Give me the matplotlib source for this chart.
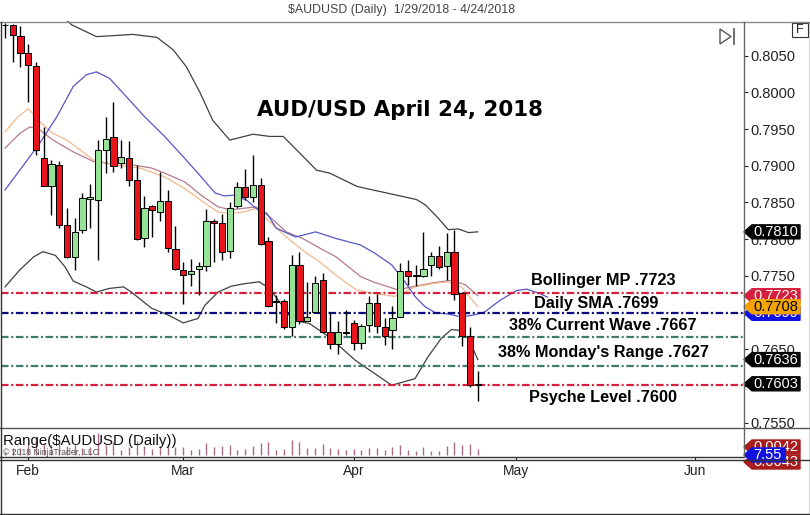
import matplotlib
matplotlib.use("Agg")
import matplotlib.pyplot as plt
import matplotlib.transforms as mtransforms
from matplotlib.lines import Line2D
from matplotlib.patches import Polygon, Rectangle
import numpy as np
import pandas as pd

plt.rcParams["font.family"] = ["Liberation Sans", "DejaVu Sans"]

W, H = 810, 515
START = "2018-01-29"

# daily bars (1/29/2018 .. 4/24/2018)
OPEN = [0.8092, 0.8092, 0.8077, 0.8053, 0.8036, 0.7910, 0.7873, 0.7901, 0.7819, 0.7776,
        0.7813, 0.7855, 0.7854, 0.7922, 0.7939, 0.7904, 0.7910, 0.7880, 0.7801, 0.7845,
        0.7837, 0.7852, 0.7786, 0.7758, 0.7752, 0.7759, 0.7764, 0.7825, 0.7822, 0.7784,
        0.7845, 0.7871, 0.7857, 0.7874, 0.7798, 0.7716, 0.7716, 0.7680, 0.7765, 0.7689,
        0.7701, 0.7744, 0.7673, 0.7657, 0.7673, 0.7686, 0.7658, 0.7683, 0.7713, 0.7681,
        0.7676, 0.7694, 0.7757, 0.7751, 0.7750, 0.7765, 0.7777, 0.7763, 0.7782, 0.7727,
        0.7668, 0.7601]
HIGH = [0.8094, 0.8093, 0.8090, 0.8066, 0.8042, 0.7953, 0.7908, 0.7906, 0.7843, 0.7829,
        0.7863, 0.7875, 0.7935, 0.7967, 0.7987, 0.7935, 0.7934, 0.7901, 0.7859, 0.7846,
        0.7892, 0.7867, 0.7818, 0.7769, 0.7773, 0.7769, 0.7841, 0.7828, 0.7835, 0.7851,
        0.7878, 0.7896, 0.7915, 0.7883, 0.7803, 0.7724, 0.7719, 0.7778, 0.7783, 0.7742,
        0.7750, 0.7754, 0.7701, 0.7688, 0.7703, 0.7690, 0.7685, 0.7722, 0.7725, 0.7692,
        0.7709, 0.7767, 0.7772, 0.7765, 0.7810, 0.7783, 0.7791, 0.7808, 0.7812, 0.7728,
        0.7681, 0.7621]
LOW = [0.8074, 0.8042, 0.8035, 0.7987, 0.7915, 0.7872, 0.7833, 0.7815, 0.7774, 0.7758,
       0.7808, 0.7815, 0.7772, 0.7890, 0.7892, 0.7897, 0.7872, 0.7799, 0.7790, 0.7803,
       0.7825, 0.7783, 0.7758, 0.7712, 0.7736, 0.7724, 0.7756, 0.7769, 0.7771, 0.7774,
       0.7843, 0.7853, 0.7851, 0.7792, 0.7708, 0.7686, 0.7677, 0.7668, 0.7685, 0.7688,
       0.7699, 0.7673, 0.7650, 0.7644, 0.7669, 0.7649, 0.7650, 0.7674, 0.7672, 0.7656,
       0.7650, 0.7694, 0.7738, 0.7736, 0.7749, 0.7750, 0.7759, 0.7744, 0.7717, 0.7654,
       0.7599, 0.7579]
CLOSE = [0.8092, 0.8078, 0.8053, 0.8037, 0.7921, 0.7873, 0.7902, 0.7819, 0.7776, 0.7810,
         0.7856, 0.7857, 0.7922, 0.7936, 0.7900, 0.7912, 0.7880, 0.7800, 0.7842, 0.7840,
         0.7852, 0.7788, 0.7759, 0.7751, 0.7757, 0.7764, 0.7825, 0.7822, 0.7783, 0.7843,
         0.7871, 0.7858, 0.7874, 0.7793, 0.7709, 0.7715, 0.7681, 0.7765, 0.7689, 0.7694,
         0.7740, 0.7674, 0.7657, 0.7673, 0.7672, 0.7659, 0.7682, 0.7713, 0.7682, 0.7668,
         0.7692, 0.7757, 0.7750, 0.7750, 0.7760, 0.7777, 0.7762, 0.7783, 0.7725, 0.7668,
         0.7601, 0.7603]

# indicator lines as (bar index, price)
BB_UPPER_X = [7.0, 8.6, 11.8, 13.5, 16.5, 19.6, 21.7, 23.4, 25.2, 26.8, 29.0, 32.0, 34.2, 35.9,
              37.6, 40.2, 41.9, 45.4, 47.5, 50.1, 53.1, 54.2, 55.7, 57.2, 58.5, 59.8, 61.0]
BB_UPPER = [0.8108, 0.8092, 0.8076, 0.8077, 0.8079, 0.8075, 0.8058, 0.8035, 0.7999, 0.7962,
            0.7935, 0.7943, 0.7940, 0.7940, 0.7922, 0.7894, 0.7890, 0.7872, 0.7867, 0.7861,
            0.7854, 0.7847, 0.7831, 0.7813, 0.7814, 0.7809, 0.7810]
BB_LOWER_X = [0.0, 1.9, 3.7, 4.9, 6.5, 7.7, 8.8, 10.5, 11.8, 13.5, 15.3, 16.3, 18.9, 21.0, 23.0,
              24.9, 25.8, 27.5, 29.2, 30.7, 32.8, 34.1, 35.4, 37.1, 39.3, 41.8, 45.2, 47.7,
              49.9, 52.9, 54.6, 56.3, 57.6, 58.5, 59.8, 61.0]
BB_LOWER = [0.7735, 0.7758, 0.7776, 0.7783, 0.7778, 0.7763, 0.7743, 0.7735, 0.7728, 0.7733,
            0.7735, 0.7728, 0.7706, 0.7697, 0.7686, 0.7692, 0.7710, 0.7728, 0.7736, 0.7739,
            0.7742, 0.7733, 0.7715, 0.7690, 0.7685, 0.7667, 0.7635, 0.7617, 0.7601, 0.7610,
            0.7640, 0.7665, 0.7677, 0.7676, 0.7665, 0.7636]
BB_MID_X = [0.0, 1.9, 3.2, 4.5, 6.2, 8.8, 11.4, 13.5, 15.5, 18.9, 20.6, 23.2, 25.3, 27.5, 29.2,
            30.7, 32.4, 34.1, 36.3, 38.4, 40.6, 42.7, 45.9, 47.7, 50.7, 52.9, 55.5, 57.6, 59.4, 61.0]
BB_MID = [0.7924, 0.7944, 0.7953, 0.7949, 0.7935, 0.7919, 0.7906, 0.7903, 0.7903, 0.7897,
          0.7890, 0.7878, 0.7860, 0.7844, 0.7840, 0.7842, 0.7844, 0.7831, 0.7810, 0.7801,
          0.7788, 0.7776, 0.7749, 0.7741, 0.7731, 0.7736, 0.7741, 0.7744, 0.7738, 0.7723]
MA_X = [0.0, 1.5, 3.0, 4.5, 6.2, 8.0, 11.4, 14.4, 17.4, 20.6, 23.2, 25.8, 27.5, 29.2, 30.7,
        32.4, 34.1, 36.3, 38.4, 40.6, 42.7, 45.3, 47.7, 50.3, 52.9, 55.5, 57.2, 58.9, 61.0]
MA = [0.7946, 0.7965, 0.7978, 0.7960, 0.7944, 0.7935, 0.7908, 0.7901, 0.7897, 0.7885, 0.7869,
      0.7849, 0.7837, 0.7835, 0.7837, 0.7842, 0.7824, 0.7803, 0.7785, 0.7769, 0.7751, 0.7731,
      0.7726, 0.7722, 0.7735, 0.7740, 0.7742, 0.7735, 0.7708]
SHIFTED_X = [0.0, 1.9, 4.5, 6.7, 8.8, 10.5, 11.8, 13.5, 15.5, 18.0, 20.6, 23.2, 25.3, 27.1,
             28.3, 29.6, 31.2, 32.4, 33.8, 35.0, 37.5, 40.1, 42.7, 45.9, 47.7, 49.9, 51.6,
             52.9, 54.2, 55.5, 57.2, 58.9, 60.6, 61.9, 63.9, 66.0, 67.3, 69.0, 70.0]
SHIFTED = [0.7867, 0.7894, 0.7931, 0.7967, 0.8008, 0.8024, 0.8028, 0.8019, 0.7996, 0.7967,
           0.7940, 0.7910, 0.7885, 0.7863, 0.7859, 0.7860, 0.7853, 0.7842, 0.7835, 0.7815,
           0.7803, 0.7810, 0.7801, 0.7792, 0.7781, 0.7765, 0.7742, 0.7722, 0.7708, 0.7700,
           0.7698, 0.7694, 0.7697, 0.7701, 0.7717, 0.7730, 0.7732, 0.7726, 0.7721]

# drawn horizontal levels and their notes
LEVELS = [0.7727, 0.7699, 0.7667, 0.7627, 0.7601]
LEVEL_COLORS = ["#d61f3c", "#0b0b80", "#3e7b6e", "#3e7b6e", "#d61f3c"]
NOTES = ["Bollinger MP .7723", "Daily SMA .7699", "38% Current Wave .7667",
         "38% Monday's Range .7627", "Psyche Level .7600"]
NOTE_X = [77.2, 76.3, 77.1, 77.2, 77.2]
NOTE_Y = [0.77376, 0.77059, 0.76763, 0.76391, 0.75778]

Y_TICKS = [0.7550, 0.7600, 0.7650, 0.7700, 0.7750, 0.7800, 0.7850, 0.7900, 0.7950, 0.8000, 0.8050]
# labels that sit completely under a price tag on the reference are left blank
Y_TICK_HIDDEN = [0.7600, 0.7700]
PRICE_TAGS = [(0.7810, "0.7810", "black", "white"), (0.7636, "0.7636", "black", "white"),
              (0.7603, "0.7603", "black", "white"), (0.7723, "0.7723", "#d61f3c", "white"),
              (0.7699, "0.7699", "#1010e0", "white"), (0.7708, "0.7708", "#f3a400", "black")]
RANGE_TAGS = [(0.0059, "0.0042", "#a81c1c", "white", 56), (-0.0052, "0.0043", "#a81c1c", "white", 56),
              (0.0000, "7.55", "#1010e0", "white", 41)]

RED = "#e8141c"
GREEN = "#96e296"

YMAX, YMIN = 0.809727, 0.754414
XMIN, XMAX = -0.516, 95.355
PX_PER_PRICE = 7340.0
RMIN, RMAX = -0.0015, 0.0207
PX_PER_RANGE = 30 / (RMAX - RMIN)


def fx(px):
    return px / W


def fy(py):
    return 1 - py / H


def draw_tag(a, value, label, bg, fg, scale, width=56, z=10):
    tr = mtransforms.blended_transform_factory(a.transAxes, a.transData)
    aw = 743.0
    x0, xt, x1 = 1.0, 1.0 + 8 / aw, 1.0 + width / aw
    hh = 7 / scale
    a.add_patch(Polygon([(x0, value), (xt, value + hh), (x1, value + hh), (x1, value - hh),
                         (xt, value - hh)], closed=True, transform=tr, facecolor=bg,
                        edgecolor=bg, clip_on=False, zorder=z))
    a.text(1.0 + 9 / aw, value, label, transform=tr, color=fg, fontsize=10.5, ha="left",
           va="center", clip_on=False, zorder=z + 0.1)


fig = plt.figure(figsize=(W / 100, H / 100), dpi=100)
ax = fig.add_axes([fx(1), fy(427), fx(744) - fx(1), fy(21) - fy(427)])
ax2 = fig.add_axes([fx(1), fy(457), fx(744) - fx(1), fy(427) - fy(457)])

idx = np.arange(len(OPEN))
o, h, l, c = (np.array(v) for v in (OPEN, HIGH, LOW, CLOSE))

# indicators
ax.plot(BB_UPPER_X, BB_UPPER, color="#404040", lw=0.9, zorder=2)
ax.plot(BB_LOWER_X, BB_LOWER, color="#404040", lw=0.9, zorder=2)
ax.plot(BB_MID_X, BB_MID, color="#b57a8c", lw=0.9, zorder=2)
ax.plot(MA_X, MA, color="#f2b98c", lw=0.9, zorder=2)
ax.plot(SHIFTED_X, SHIFTED, color="#5656c8", lw=0.9, zorder=2)

for price, col in zip(LEVELS, LEVEL_COLORS):
    ax.axhline(price, color=col, lw=1.6, linestyle=(0, (3.4, 1.2, 0.9, 1.2)), zorder=2.2)

# candles
ax.vlines(idx, l, h, color="black", lw=1, zorder=3)
ax.bar(idx, np.maximum(np.abs(c - o), 0.00003), bottom=np.minimum(o, c), width=0.8,
       color=np.where(c >= o, GREEN, RED), edgecolor="black", linewidth=0.7, zorder=4)

for s, x, y in zip(NOTES, NOTE_X, NOTE_Y):
    ax.text(x, y, s, ha="center", va="baseline", fontsize=11.7, fontweight="bold", zorder=6)
ax.text(50.97, 0.79678, "AUD/USD April 24, 2018", ha="center", va="baseline",
        fontsize=15.4, fontweight="bold", family="DejaVu Sans", zorder=6)

ax.set_xlim(XMIN, XMAX)
ax.set_ylim(YMIN, YMAX)
ax.yaxis.tick_right()
ax.set_yticks(Y_TICKS)
ax.set_yticklabels(["" if v in Y_TICK_HIDDEN else f"{v:.4f}" for v in Y_TICKS])
ax.tick_params(axis="y", length=3, width=0.8, pad=1.5, labelsize=10.5, colors="#222222")
ax.set_xticks([])
for sp in ax.spines.values():
    sp.set_visible(False)

for z, (val, txt, bg, fg) in enumerate(PRICE_TAGS):
    draw_tag(ax, val, txt, bg, fg, PX_PER_PRICE, z=10 + z)

# range panel
ax2.vlines(idx, 0, h - l, color="#a86c88", lw=1, zorder=2)
ax2.text(-0.2, 0.0107, "Range($AUDUSD (Daily))", fontsize=10.8, ha="left", va="center",
         color="#111111", zorder=5)
ax2.text(-0.25, 0.0020, "\u00a9 2018 NinjaTrader, LLC", fontsize=6.2, ha="left", va="center",
         color="#555555", zorder=6)
ax2.set_xlim(XMIN, XMAX)
ax2.set_ylim(RMIN, RMAX)
ax2.set_yticks([])
axis_days = pd.bdate_range(START, "2018-06-29")
month_first = [i for i in range(1, len(axis_days)) if axis_days[i].month != axis_days[i - 1].month]
ax2.set_xticks(month_first)
ax2.set_xticklabels([axis_days[i].strftime("%b") for i in month_first])
ax2.tick_params(axis="x", length=2.2, width=0.8, pad=2.5, labelsize=10, colors="#222222")
for sp in ax2.spines.values():
    sp.set_visible(False)
for z, (val, txt, bg, fg, wd) in enumerate(RANGE_TAGS):
    draw_tag(ax2, val, txt, bg, fg, PX_PER_RANGE, width=wd, z=10 + z)


def fig_line(xs, ys, color, lw=1.0):
    fig.add_artist(Line2D([fx(x) for x in xs], [fy(y) for y in ys], color=color, lw=lw))


fig_line([0, 810], [21.5, 21.5], "#8a8a8a")
fig_line([0, 810], [427.5, 427.5], "#555555")
fig_line([0, 744], [457, 457], "#333333")
fig_line([0, 810], [460, 460], "#333333")
fig_line([744, 744], [21.5, 457], "#666666")
fig_line([1, 1], [21.5, 514], "#333333")
fig_line([0, 810], [514, 514], "#333333")
fig_line([809.5, 809.5], [21.5, 514], "#333333")

# toolbar glyphs in the corner
fig.add_artist(Polygon([(fx(720), fy(29)), (fx(731), fy(36.5)), (fx(720), fy(44))], closed=True,
                       facecolor="none", edgecolor="#555555", lw=1))
fig_line([733.5, 733.5], [29, 44], "#555555", 1.2)
fig.add_artist(Rectangle((fx(792), fy(37)), fx(16), 14 / H, facecolor="white",
                         edgecolor="#333333", lw=0.8))
fig.text(fx(800), fy(30), "F", fontsize=9, ha="center", va="center", color="#222222")

fig.text(fx(401), fy(10), "$AUDUSD (Daily)  1/29/2018 - 4/24/2018", fontsize=8.9,
         ha="center", va="center", color="#444444")

fig.savefig("out.png", dpi=100)
